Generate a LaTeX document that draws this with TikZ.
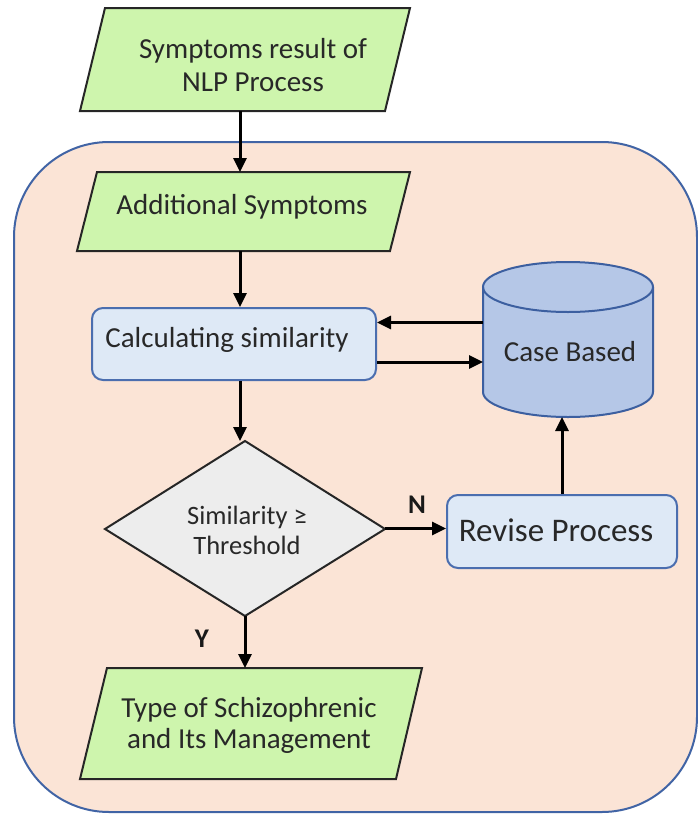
\documentclass[tikz,border=0pt]{standalone}
\usepackage{fontspec}
\setmainfont{Carlito}
\usetikzlibrary{arrows.meta}
\definecolor{paragreen}{RGB}{206,245,173}
\definecolor{bgpeach}{RGB}{251,228,214}
\definecolor{bgline}{RGB}{65,100,165}
\definecolor{boxfill}{RGB}{222,233,246}
\definecolor{boxline}{RGB}{75,110,175}
\definecolor{dbfill}{RGB}{181,199,231}
\definecolor{dbline}{RGB}{60,95,160}
\definecolor{dmdfill}{RGB}{237,237,237}
\definecolor{txtcol}{RGB}{40,40,40}
\tikzset{
  para/.style={draw=black!85, line width=2pt, fill=paragreen, line join=miter},
  anchorbox/.style={inner sep=0pt, outer sep=0pt},
  lbl/.style={text=txtcol, align=center, font=\fontsize{29}{33}\selectfont, inner sep=0pt},
  procbox/.style={draw=boxline, line width=2pt, fill=boxfill, rounded corners=11pt, inner sep=0pt, text=txtcol},
  arr/.style={draw=black, line width=3pt, -{Triangle[length=14pt,width=13pt]}},
  yn/.style={font=\fontsize{27}{29}\selectfont\bfseries, text=black!90, inner sep=0pt}
}
\begin{document}
\begin{tikzpicture}[x=1pt,y=-1pt]
\useasboundingbox (0,0) rectangle (697,814);
% background region
\draw[bgline, line width=2pt, fill=bgpeach, rounded corners=95pt] (14,142) rectangle (697,812);

% input parallelogram
\draw[para] (105,8) -- (410,8) -- (385,111) -- (80,111) -- cycle;
\node[anchorbox, minimum width=250pt, minimum height=103pt] (in1) at (240,59.5) {};
\node[lbl] (in1t) at (253,65) {Symptoms result of\\NLP Process};

% additional symptoms
\draw[para] (97,172) -- (410,172) -- (390,251) -- (77,251) -- cycle;
\node[anchorbox, minimum width=250pt, minimum height=79pt] (in2) at (240,211.5) {};
\node[lbl] (in2t) at (242,207) {Additional Symptoms};

% calculating similarity
\node[procbox, minimum width=284pt, minimum height=72pt] (calc) at (234,344) {};
\node[lbl] (calct) at (227,340) {Calculating similarity};

% case base cylinder
\path[fill=dbfill] (483,287) -- (483,392) arc[start angle=180, end angle=0, x radius=85, y radius=25] -- (653,287) arc[start angle=0, end angle=-180, x radius=85, y radius=25] -- cycle;
\draw[dbline, line width=2pt] (483,287) -- (483,392) arc[start angle=180, end angle=0, x radius=85, y radius=25] -- (653,287);
\draw[dbline, line width=2pt] (568,287) ellipse[x radius=85, y radius=25];
\node[anchorbox, minimum width=170pt, minimum height=155pt] (db) at (568,339.5) {};
\node[lbl] (dbt) at (570,352) {Case Based};

% decision diamond
\draw[draw=black!85, line width=2pt, fill=dmdfill, line join=miter] (245,441) -- (385,529) -- (245,616) -- (105,529) -- cycle;
\node[anchorbox, minimum width=280pt, minimum height=175pt] (dmd) at (245,528.5) {};
\node[lbl, font=\fontsize{26.5}{30}\selectfont] (dmdt) at (247,530) {Similarity ≥\\Threshold};

% revise process
\node[procbox, minimum width=230pt, minimum height=73pt] (rev) at (562,531.5) {};
\node[lbl, font=\fontsize{33}{36}\selectfont] (revt) at (556,530) {Revise Process};

% output parallelogram
\draw[para] (107,668) -- (422,668) -- (396,779) -- (80,779) -- cycle;
\node[anchorbox, minimum width=260pt, minimum height=111pt] (out) at (245,723.5) {};
\node[lbl, font=\fontsize{29}{31}\selectfont] (outt) at (249,725) {Type of Schizophrenic\\and Its Management};

% connectors
\draw[arr] (in1.south) -- (in2.north);
\draw[arr] (in2.south) -- (calc.north -| in2.south);
\draw[arr] ([yshift=17pt]db.west) -- ([yshift=17pt]db.west -| calc.east);
\draw[arr] ([yshift=-18pt]calc.east) -- ([yshift=-18pt]calc.east -| db.west);
\draw[arr] (calc.south -| in2.south) -- (dmd.north -| in2.south);
\draw[arr] (dmd.east) -- (dmd.east -| rev.west);
\draw[arr] (rev.north) -- (rev.north |- db.south);
\draw[arr] (dmd.south) -- (out.north);

% branch labels
\node[yn] (nlab) at (417,505) {N};
\node[yn] (ylab) at (202,639) {Y};
\end{tikzpicture}
\end{document}
